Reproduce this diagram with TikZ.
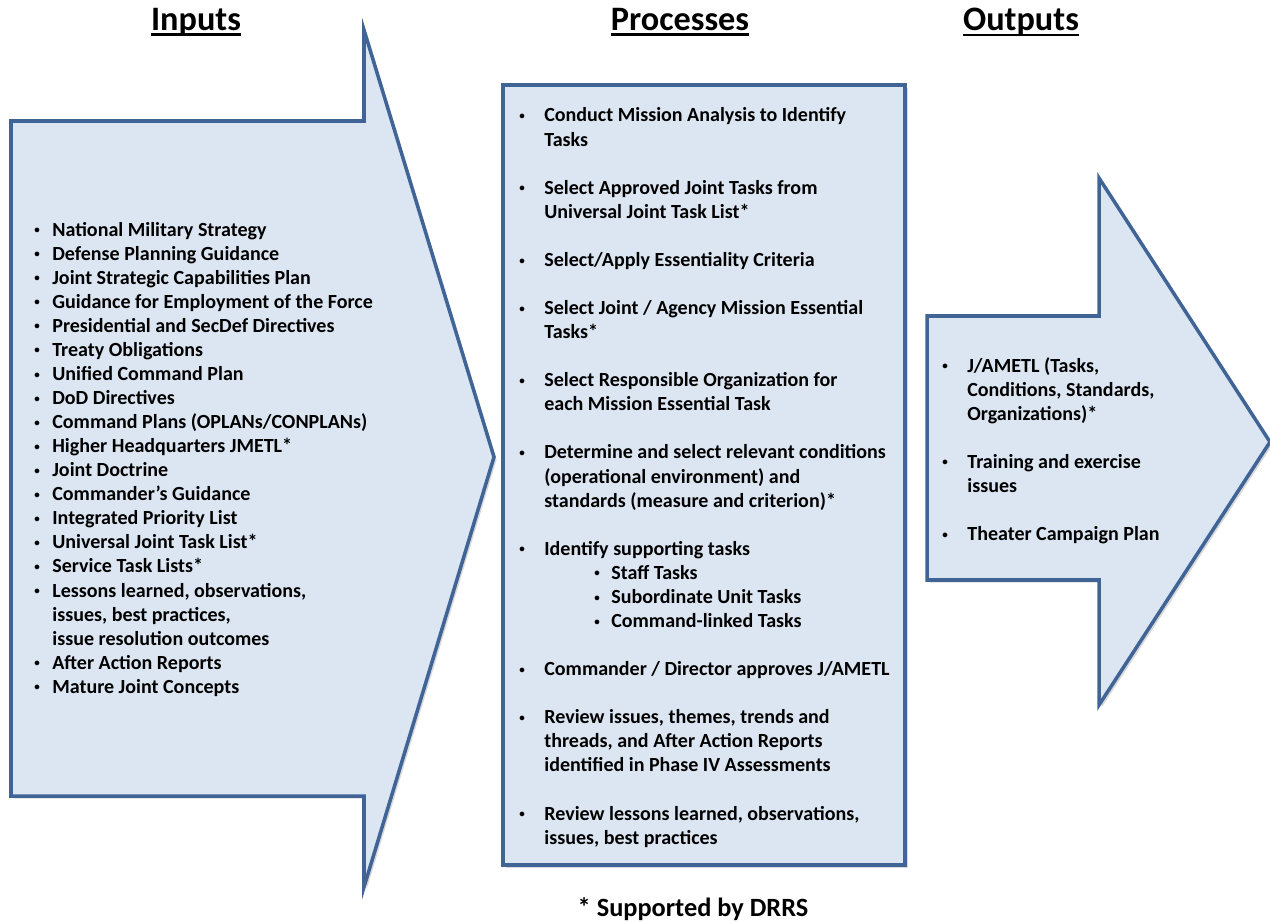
\documentclass[tikz,border=0pt]{standalone}
\usepackage{fontspec}
\setmainfont{Carlito}
\usetikzlibrary{shadows}

\definecolor{panelfill}{RGB}{220,230,242}
\definecolor{panelline}{RGB}{64,100,150}
\newcommand{\ulhead}[1]{\setbox0\hbox{#1}\rlap{\rule[-3pt]{\wd0}{1.3pt}}\box0}
\newcommand{\smallbul}{\raisebox{0.12em}{\scalebox{0.55}{\textbullet}}}

\begin{document}
\begin{tikzpicture}[
		x=0.02cm, y=-0.02cm,
		every node/.style={inner sep=0pt},
		panel/.style={draw=panelline, line width=2pt, fill=panelfill,
			drop shadow={opacity=0.3, shadow xshift=1.5pt, shadow yshift=-1.5pt}},
		heading/.style={font=\fontsize{19.5}{23}\selectfont\bfseries},
		itemlist/.style={anchor=base west, font=\fontsize{11.4}{13.7}\selectfont\bfseries}
	]
  \useasboundingbox (0,0) rectangle (1270,922);

  \draw[panel] (11,121) -- (364,121) -- (364,30) -- (494,457) -- (364,887) -- (364,796) -- (11,796) -- cycle;
  \draw[panel] (503,85) rectangle (905,865);
  \draw[panel] (927,316) -- (1099,316) -- (1099,178) -- (1270,442) -- (1099,705) -- (1099,580) -- (927,580) -- cycle;

  \node (inhead) [heading] at (196,22) {\ulhead{Inputs}};
  \node (prochead) [heading] at (680,22) {\ulhead{Processes}};
  \node (outhead) [heading] at (1021,22) {\ulhead{Outputs}};

  \node (inlist) [itemlist] at (34,236) {%
    \begin{tabular}[t]{@{}p{0.36cm}@{}l@{}}
      \smallbul & National Military Strategy\\
      \smallbul & Defense Planning Guidance\\
      \smallbul & Joint Strategic Capabilities Plan\\
      \smallbul & Guidance for Employment of the Force\\
      \smallbul & Presidential and SecDef Directives\\
      \smallbul & Treaty Obligations\\
      \smallbul & Unified Command Plan\\
      \smallbul & DoD Directives\\
      \smallbul & Command Plans (OPLANs/CONPLANs)\\
      \smallbul & Higher Headquarters JMETL*\\
      \smallbul & Joint Doctrine\\
      \smallbul & Commander’s Guidance\\
      \smallbul & Integrated Priority List\\
      \smallbul & Universal Joint Task List*\\
      \smallbul & Service Task Lists*\\
      \smallbul & Lessons learned, observations,\\
                & issues, best practices,\\
                & issue resolution outcomes\\
      \smallbul & After Action Reports\\
      \smallbul & Mature Joint Concepts
    \end{tabular}};

  \node (proclist) [itemlist] at (519,122) {%
    \begin{tabular}[t]{@{}p{0.5cm}@{}l@{}}
      \smallbul & Conduct Mission Analysis to Identify\\
                & Tasks\\
                & \\
      \smallbul & Select Approved Joint Tasks from\\
                & Universal Joint Task List*\\
                & \\
      \smallbul & Select/Apply Essentiality Criteria\\
                & \\
      \smallbul & Select Joint / Agency Mission Essential\\
                & Tasks*\\
                & \\
      \smallbul & Select Responsible Organization for\\
                & each Mission Essential Task\\
                & \\
      \smallbul & Determine and select relevant conditions\\
                & (operational environment) and\\
                & standards (measure and criterion)*\\
                & \\
      \smallbul & Identify supporting tasks\\
                & \hspace{1cm}\makebox[0.34cm][l]{\smallbul}Staff Tasks\\
                & \hspace{1cm}\makebox[0.34cm][l]{\smallbul}Subordinate Unit Tasks\\
                & \hspace{1cm}\makebox[0.34cm][l]{\smallbul}Command-linked Tasks\\
                & \\
      \smallbul & Commander / Director approves J/AMETL\\
                & \\
      \smallbul & Review issues, themes, trends and\\
                & threads, and After Action Reports\\
                & identified in Phase IV Assessments\\
                & \\
      \smallbul & Review lessons learned, observations,\\
                & issues, best practices
    \end{tabular}};

  \node (outlist) [itemlist] at (942,372) {%
    \begin{tabular}[t]{@{}p{0.5cm}@{}l@{}}
      \smallbul & J/AMETL (Tasks,\\
                & Conditions, Standards,\\
                & Organizations)*\\
                & \\
      \smallbul & Training and exercise\\
                & issues\\
                & \\
      \smallbul & Theater Campaign Plan
    \end{tabular}};

  \node (drrsnote) [font=\fontsize{15}{18}\selectfont\bfseries] at (693,909) {* Supported by DRRS};
\end{tikzpicture}
\end{document}
